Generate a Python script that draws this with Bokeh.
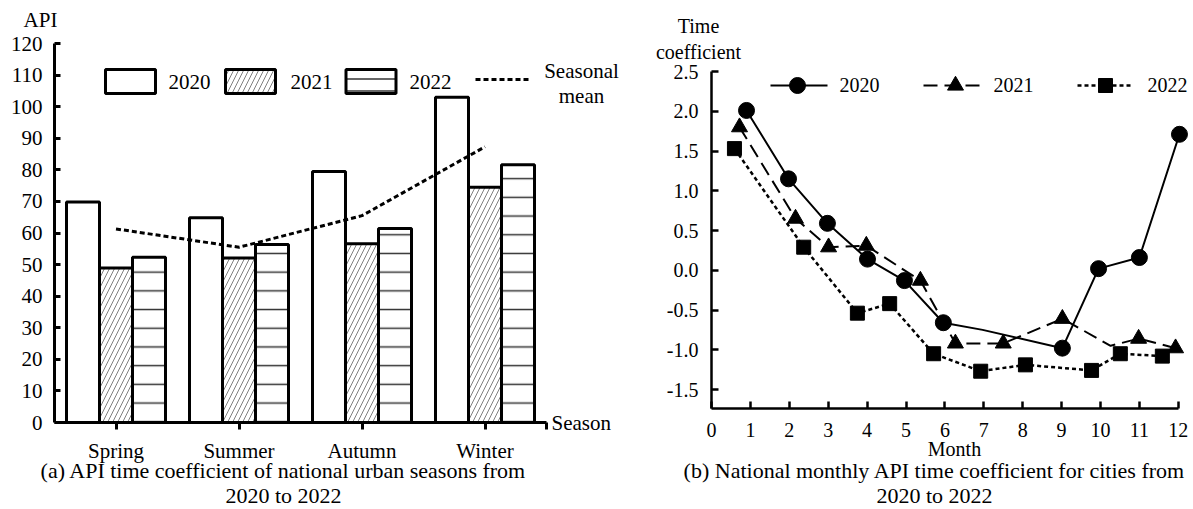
from bokeh.plotting import figure
from bokeh.layouts import row
from bokeh.models import Range1d, FixedTicker, Label, NumeralTickFormatter
from bokeh.embed import file_html
from bokeh.resources import INLINE

# ---------------- data ----------------
seasons = ["Spring", "Summer", "Autumn", "Winter"]
api_2020 = [69.8, 64.8, 79.5, 103.0]
api_2021 = [48.9, 52.1, 56.6, 74.5]
api_2022 = [52.3, 56.4, 61.4, 81.6]
seasonal_mean = [61.3, 55.5, 65.5, 87.3]
api_ticks = list(range(0, 121, 10))

month_ticks = list(range(0, 13))
coef_ticks = [-1.5, -1.0, -0.5, 0.0, 0.5, 1.0, 1.5, 2.0, 2.5]

m2020 = [0.90, 1.98, 2.98, 4.01, 4.96, 5.96, 6.97, 9.02, 9.95, 11.0, 12.03]
c2020 = [2.01, 1.15, 0.59, 0.14, -0.13, -0.66, -0.75, -0.98, 0.02, 0.16, 1.71]
mk2020 = [1, 1, 1, 1, 1, 1, 0, 1, 1, 1, 1]

m2021 = [0.72, 2.16, 3.01, 3.98, 5.37, 6.27, 7.50, 9.02, 10.26, 10.98, 11.93]
c2021 = [1.80, 0.65, 0.29, 0.31, -0.13, -0.92, -0.92, -0.61, -0.95, -0.86, -0.98]
mk2021 = [1, 1, 1, 1, 1, 1, 1, 1, 0, 1, 1]

m2022 = [0.59, 2.37, 3.75, 4.58, 5.71, 6.92, 8.07, 9.77, 10.51, 11.59]
c2022 = [1.53, 0.29, -0.54, -0.42, -1.05, -1.27, -1.19, -1.26, -1.05, -1.08]

FONT = "Liberation Serif"
H = 509
DY = 8  # label baseline correction in pixels

def lab(p, x, y, t, size, align="left"):
    p.add_layout(Label(x=x, y=y, text=t, text_font=FONT, text_font_size=size,
                       text_align=align, text_baseline="alphabetic", text_color="black"))

def style_axis(ax, lw, tin, tout, standoff, size):
    ax.axis_line_width = lw
    ax.major_tick_line_width = lw
    ax.major_tick_in = tin
    ax.major_tick_out = tout
    ax.minor_tick_line_color = None
    ax.major_label_standoff = standoff
    ax.major_label_text_font = FONT
    ax.major_label_text_font_size = size
    ax.major_label_text_color = "black"

# ---------------- left panel (canvas x 0..630) ----------------
LW = 630
LX0, LPX, LY0, LPY = 54, 123.0, 422, 3.158
def lx(px):
    return (px - LX0) / LPX
def ly(py):
    return (LY0 - py) / LPY
def lyt(py):
    return ly(py - DY)

p1 = figure(width=LW, height=H, output_backend="svg", toolbar_location=None,
            x_range=Range1d(lx(0), lx(LW)), y_range=Range1d(ly(H), ly(0)),
            min_border_left=0, min_border_right=0, min_border_top=0, min_border_bottom=0)
p1.outline_line_color = None
p1.grid.visible = False

centers = [i + 0.5 for i in range(len(seasons))]
bw = 33 / LPX
p1.vbar(x=[c - bw for c in centers], top=api_2020, width=bw, bottom=0,
        fill_color="white", line_color="black", line_width=3)
p1.vbar(x=centers, top=api_2021, width=bw, bottom=0,
        fill_color="white", line_color="black", line_width=3,
        hatch_pattern="/", hatch_color="#808080", hatch_scale=10, hatch_weight=1)
p1.vbar(x=[c + bw for c in centers], top=api_2022, width=bw, bottom=0,
        fill_color="white", line_color="black", line_width=3,
        hatch_pattern="-", hatch_color="#333333", hatch_scale=18.7, hatch_weight=1.5)
p1.line(x=centers, y=seasonal_mean, line_color="black", line_width=3, line_dash="5 3")

# legend (left)
bh = 24 / LPY
bwl = 50 / LPX
p1.rect(x=[lx(130)], y=[ly(81)], width=bwl, height=bh, fill_color="white",
        line_color="black", line_width=3)
p1.rect(x=[lx(250)], y=[ly(81)], width=bwl, height=bh, fill_color="white",
        line_color="black", line_width=3,
        hatch_pattern="/", hatch_color="#808080", hatch_scale=10, hatch_weight=1)
p1.rect(x=[lx(370.5)], y=[ly(81)], width=bwl, height=bh, fill_color="white",
        line_color="black", line_width=3,
        hatch_pattern="-", hatch_color="#333333", hatch_scale=12, hatch_weight=1.5)
p1.line(x=[lx(475), lx(528)], y=[ly(79), ly(79)], line_color="black", line_width=3, line_dash="5 3")

for xx, t in [(168, "2020"), (290, "2021"), (409, "2022")]:
    lab(p1, lx(xx), lyt(89), t, "21px")
lab(p1, lx(581), lyt(78), "Seasonal", "21px", "center")
lab(p1, lx(581), lyt(103), "mean", "21px", "center")
lab(p1, lx(40), lyt(27), "API", "21px", "center")
lab(p1, lx(551), lyt(430), "Season", "21px")
lab(p1, lx(283), lyt(478), "(a) API time coefficient of national urban seasons from", "22px", "center")
lab(p1, lx(283), lyt(503), "2020 to 2022", "22px", "center")

xa = p1.xaxis[0]
xa.fixed_location = 0
xa.ticker = FixedTicker(ticks=centers + [4.0])
xa.major_label_overrides = {0.5: "Spring", 1.5: "Summer", 2.5: "Autumn", 3.5: "Winter", 4: ""}
xa.bounds = (0, 4)
style_axis(xa, 3, 0, 7, 9, "21px")

ya = p1.yaxis[0]
ya.fixed_location = 0
ya.ticker = FixedTicker(ticks=api_ticks)
ya.bounds = (0, 120)
style_axis(ya, 3, 6, 0, 12, "21px")

# ---------------- right panel (canvas x 630..1193) ----------------
RX_OFF = 630
RW = 1193 - RX_OFF
RX0, RPX, RY25, RPY = 711, 38.9, 71, 79.5
def rx(px):
    return (px - RX0) / RPX
def ry(py):
    return 2.5 - (py - RY25) / RPY
def ryt(py):
    return ry(py - DY)

p2 = figure(width=RW, height=H, output_backend="svg", toolbar_location=None,
            x_range=Range1d(rx(RX_OFF), rx(1193)), y_range=Range1d(ry(H), ry(0)),
            min_border_left=0, min_border_right=0, min_border_top=0, min_border_bottom=0)
p2.outline_line_color = None
p2.grid.visible = False

p2.line(m2020, c2020, line_color="black", line_width=2)
p2.line(m2021, c2021, line_color="black", line_width=2, line_dash="14 7")
p2.line(m2022, c2022, line_color="black", line_width=2.5, line_dash="4 3")
p2.scatter([m for m, k in zip(m2020, mk2020) if k], [c for c, k in zip(c2020, mk2020) if k],
           marker="circle", size=16, fill_color="black", line_color="black")
p2.scatter([m for m, k in zip(m2021, mk2021) if k], [c for c, k in zip(c2021, mk2021) if k],
           marker="triangle", size=16, fill_color="black", line_color="black")
p2.scatter(m2022, c2022, marker="square", size=14, fill_color="black", line_color="black")

# legend (right)
yl = ry(85)
p2.line([rx(770), rx(827)], [yl, yl], line_color="black", line_width=2)
p2.scatter([rx(797)], [yl], marker="circle", size=16, fill_color="black", line_color="black")
p2.line([rx(923), rx(982)], [yl, yl], line_color="black", line_width=2, line_dash="14 7")
p2.scatter([rx(955)], [yl], marker="triangle", size=16, fill_color="black", line_color="black")
p2.line([rx(1077), rx(1133)], [yl, yl], line_color="black", line_width=2.5, line_dash="4 3")
p2.scatter([rx(1105)], [yl], marker="square", size=14, fill_color="black", line_color="black")
for xx, t in [(839, "2020"), (993, "2021"), (1147, "2022")]:
    lab(p2, rx(xx), ryt(92), t, "20px")
lab(p2, rx(698), ryt(33), "Time", "20px", "center")
lab(p2, rx(698), ryt(59), "coefficient", "20px", "center")
lab(p2, rx(954), ryt(456), "Month", "20px", "center")
lab(p2, rx(934), ryt(478), "(b) National monthly API time coefficient for cities from", "22px", "center")
lab(p2, rx(934), ryt(503), "2020 to 2022", "22px", "center")

xb = p2.xaxis[0]
xb.fixed_location = ry(408)
xb.ticker = FixedTicker(ticks=month_ticks)
xb.bounds = (0, 12)
style_axis(xb, 2.5, 7, 0, 14, "20px")

yb = p2.yaxis[0]
yb.fixed_location = 0
yb.ticker = FixedTicker(ticks=coef_ticks)
yb.formatter = NumeralTickFormatter(format="0.0")
yb.bounds = (ry(408), 2.5)
style_axis(yb, 2.5, 7, 0, 13, "20px")

layout = row(p1, p2, spacing=0)
open("out.html", "w").write(file_html(layout, INLINE))
